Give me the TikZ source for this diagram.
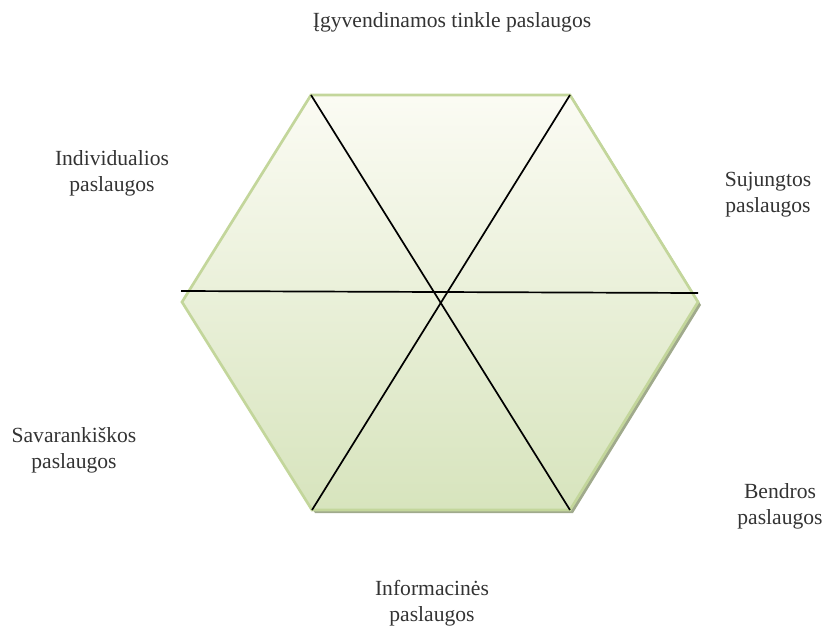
\documentclass[tikz,border=0pt]{standalone}
\usepackage{fontspec}
\setmainfont{Liberation Serif}
\begin{document}
\begin{tikzpicture}[x=1pt,y=-1pt,
  lbl/.style={align=center,text=black!80,font=\fontsize{21.6}{26}\selectfont,inner sep=0pt},
  hexfill/.style={top color=white!97!olive,bottom color={rgb,255:red,215;green,228;blue,189},draw={rgb,255:red,195;green,214;blue,155},line width=2.7pt,line join=miter},
  hexshadow/.style={fill={rgb,255:red,160;green,170;blue,140}},
  divider/.style={draw=black,line width=1.7pt}]
\useasboundingbox (0,0) rectangle (830,643);
\coordinate (tl) at (311,95);
\coordinate (tr) at (570,95);
\coordinate (r) at (698,302);
\coordinate (br) at (570,510);
\coordinate (bl) at (312,510);
\coordinate (l) at (182,302);
\coordinate (hl) at (181,291);
\coordinate (hr) at (698,293);
% shadow
\fill[hexshadow] ([shift={(3,3)}]tl) -- ([shift={(3,3)}]tr) -- ([shift={(3,3)}]r) -- ([shift={(3,3)}]br) -- ([shift={(3,3)}]bl) -- ([shift={(3,3)}]l) -- cycle;
% hexagon
\path[hexfill] (tl) -- (tr) -- (r) -- (br) -- (bl) -- (l) -- cycle;
% dividers
\draw[divider] (tl) -- (br);
\draw[divider] (tr) -- (bl);
\draw[divider] (hl) -- (hr);
% labels
\node[lbl] (t1) at (452,22) {Įgyvendinamos tinkle paslaugos};
\node[lbl] (t2) at (112,173) {Individualios\\paslaugos};
\node[lbl] (t3) at (768,195) {Sujungtos\\paslaugos};
\node[lbl] (t4) at (74,450) {Savarankiškos\\paslaugos};
\node[lbl] (t5) at (780,506) {Bendros\\paslaugos};
\node[lbl] (t6) at (432,603) {Informacinės\\paslaugos};
\end{tikzpicture}
\end{document}
